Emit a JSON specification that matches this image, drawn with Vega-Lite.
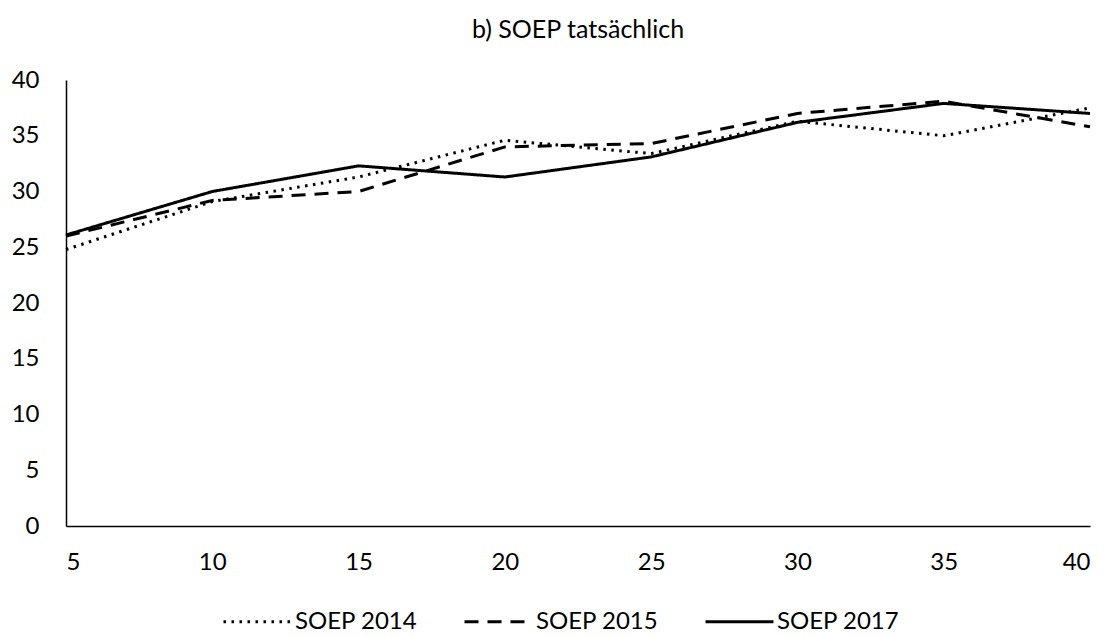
{
  "$schema": "https://vega.github.io/schema/vega-lite/v6.json",
  "autosize": {"type": "none"},
  "width": 1024,
  "height": 446,
  "padding": {"left": 66, "top": 80, "right": 21, "bottom": 111},
  "background": "white",
  "title": {"text": "b) SOEP tatsächlich", "anchor": "middle", "frame": "group", "offset": 25, "font": "Lato", "fontSize": 25, "fontWeight": "normal", "color": "#000000"},
  "data": {"values": [
    {"x": 5, "series": "SOEP 2014", "v": 24.8},
    {"x": 10, "series": "SOEP 2014", "v": 29.1},
    {"x": 15, "series": "SOEP 2014", "v": 31.3},
    {"x": 20, "series": "SOEP 2014", "v": 34.6},
    {"x": 25, "series": "SOEP 2014", "v": 33.4},
    {"x": 30, "series": "SOEP 2014", "v": 36.3},
    {"x": 35, "series": "SOEP 2014", "v": 35.0},
    {"x": 40, "series": "SOEP 2014", "v": 37.5},
    {"x": 5, "series": "SOEP 2015", "v": 26.0},
    {"x": 10, "series": "SOEP 2015", "v": 29.2},
    {"x": 15, "series": "SOEP 2015", "v": 30.0},
    {"x": 20, "series": "SOEP 2015", "v": 34.0},
    {"x": 25, "series": "SOEP 2015", "v": 34.3},
    {"x": 30, "series": "SOEP 2015", "v": 37.0},
    {"x": 35, "series": "SOEP 2015", "v": 38.1},
    {"x": 40, "series": "SOEP 2015", "v": 35.8},
    {"x": 5, "series": "SOEP 2017", "v": 26.1},
    {"x": 10, "series": "SOEP 2017", "v": 30.0},
    {"x": 15, "series": "SOEP 2017", "v": 32.3},
    {"x": 20, "series": "SOEP 2017", "v": 31.3},
    {"x": 25, "series": "SOEP 2017", "v": 33.1},
    {"x": 30, "series": "SOEP 2017", "v": 36.2},
    {"x": 35, "series": "SOEP 2017", "v": 37.9},
    {"x": 40, "series": "SOEP 2017", "v": 37.0}
  ]},
  "mark": {"type": "line", "color": "#000000", "strokeWidth": 3},
  "encoding": {
    "x": {"field": "x", "type": "quantitative", "scale": {"domain": [5, 40], "nice": false, "zero": false},
      "axis": {"values": [5, 10, 15, 20, 25, 30, 35, 40], "title": null, "grid": false, "ticks": false, "labelPadding": 24, "domainColor": "#000000", "domainWidth": 1.5}},
    "y": {"field": "v", "type": "quantitative", "scale": {"domain": [0, 40], "nice": false},
      "axis": {"values": [0, 5, 10, 15, 20, 25, 30, 35, 40], "title": null, "grid": false, "ticks": false, "labelPadding": 27, "domainColor": "#000000", "domainWidth": 1.5}},
    "strokeDash": {"field": "series", "type": "nominal",
      "scale": {"domain": ["SOEP 2014", "SOEP 2015", "SOEP 2017"], "range": [[2.5, 5.5], [14, 9], [1, 0]]},
      "legend": {"title": null, "orient": "none", "direction": "horizontal", "legendX": 156, "legendY": 506, "symbolType": "stroke", "symbolSize": 4624, "symbolStrokeWidth": 3, "symbolStrokeColor": "#000000", "labelOffset": 2, "columnPadding": 40}}
  },
  "config": {
    "view": {"stroke": null},
    "axis": {"labelFont": "Lato", "labelFontSize": 24, "labelColor": "#000000"},
    "legend": {"labelFont": "Lato", "labelFontSize": 24, "labelColor": "#000000"}
  }
}
